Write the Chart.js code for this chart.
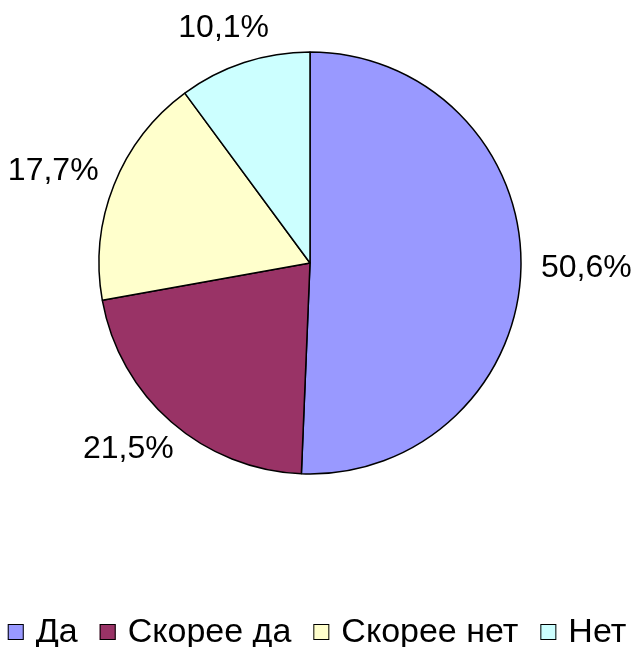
<!DOCTYPE html>
<html>
<head>
<meta charset="utf-8">
<script src="https://cdn.jsdelivr.net/npm/chart.js@4/dist/chart.umd.min.js"></script>
<style>
  html, body { margin: 0; padding: 0; background: #ffffff; }
  #wrap { width: 634px; height: 647px; position: relative; }
</style>
</head>
<body>
<div id="wrap"><canvas id="c"></canvas></div>
<script>
const categories = ["Да", "Скорее да", "Скорее нет", "Нет"];
const values = [50.6, 21.5, 17.7, 10.1];
const valueLabels = ["50,6%", "21,5%", "17,7%", "10,1%"];
const colors = ["#9999FF", "#993366", "#FFFFCC", "#CCFFFF"];

const FONT = "'Liberation Sans', Arial, sans-serif";

const placePlugin = {
  id: 'placePlugin',
  afterLayout(chart) {
    chart.chartArea = { left: 99, top: 52, right: 521, bottom: 474, width: 422, height: 422 };
  }
};

const labelPlugin = {
  id: 'labelPlugin',
  afterDatasetsDraw(chart) {
    const ctx = chart.ctx;
    const meta = chart.getDatasetMeta(0);
    ctx.save();
    ctx.font = "32px " + FONT;
    ctx.fillStyle = "#000";
    ctx.textAlign = "center";
    ctx.textBaseline = "middle";
    meta.data.forEach((arc, i) => {
      const p = arc.getProps(['startAngle', 'endAngle', 'x', 'y', 'outerRadius'], true);
      const a = (p.startAngle + p.endAngle) / 2;
      const txt = valueLabels[i];
      const w = ctx.measureText(txt).width;
      const hh = 32;
      const r = p.outerRadius + 20;
      const cx = p.x + Math.cos(a) * r + Math.cos(a) * w / 2;
      const cy = p.y + Math.sin(a) * r + Math.sin(a) * hh / 2;
      ctx.fillText(txt, cx, cy);
    });
    ctx.restore();
  }
};

const legendPlugin = {
  id: 'legendPlugin',
  afterDraw(chart) {
    const ctx = chart.ctx;
    const box = 16, gapIn = 12, gapOut = 22, yc = 632;
    ctx.save();
    ctx.font = "34px " + FONT;
    ctx.textBaseline = "middle";
    ctx.textAlign = "left";
    const widths = categories.map(c => ctx.measureText(c).width);
    const total = widths.reduce((s, w) => s + w, 0) + categories.length * (box + gapIn) + (categories.length - 1) * gapOut;
    let x = (chart.width - total) / 2;
    categories.forEach((c, i) => {
      ctx.fillStyle = colors[i];
      ctx.fillRect(x, yc - box / 2, box, box);
      ctx.strokeStyle = "#000";
      ctx.lineWidth = 1;
      ctx.strokeRect(x + 0.5, yc - box / 2 + 0.5, box - 1, box - 1);
      ctx.fillStyle = "#000";
      ctx.fillText(c, x + box + gapIn, yc + 1);
      x += box + gapIn + widths[i] + gapOut;
    });
    ctx.restore();
  }
};

new Chart(document.getElementById('c'), {
  type: 'pie',
  data: {
    labels: categories,
    datasets: [{
      data: values,
      backgroundColor: colors,
      borderColor: "#000000",
      borderWidth: 1.5,
      clip: false,
      radius: 211
    }]
  },
  options: {
    responsive: true,
    maintainAspectRatio: false,
    animation: false,
    layout: { padding: 0 },
    plugins: {
      legend: { display: false },
      tooltip: { enabled: false }
    }
  },
  plugins: [placePlugin, labelPlugin, legendPlugin]
});
</script>
</body>
</html>
